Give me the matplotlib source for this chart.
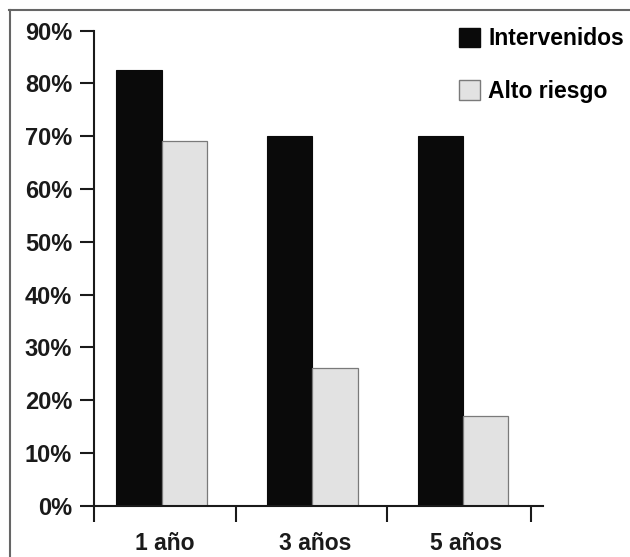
import numpy as np
import matplotlib
matplotlib.use('Agg')
import matplotlib.pyplot as plt
from matplotlib.patches import Patch
from matplotlib.lines import Line2D

categorias = ['1 año', '3 años', '5 años']
intervenidos = [82.5, 70, 70]
alto_riesgo = [69, 26, 17]
series = ['Intervenidos', 'Alto riesgo']
yticks = [0, 10, 20, 30, 40, 50, 60, 70, 80, 90]

plt.rcParams['font.family'] = ['Liberation Sans', 'DejaVu Sans']
plt.rcParams['font.weight'] = 'bold'

fig = plt.figure(figsize=(6.3, 5.57), dpi=100)
ax = fig.add_axes([0.1497, 0.0921, 0.862 - 0.1497, 0.9452 - 0.0921])

x = np.arange(len(categorias))
w = 0.3
ax.bar(x - w/2, intervenidos, w, color='#0a0a0a', edgecolor='#0a0a0a', linewidth=0.8)
ax.bar(x + w/2, alto_riesgo, w, color='#e2e2e2', edgecolor='#7a7a7a', linewidth=0.9)

ax.set_xlim(-0.447, 2.53)
ax.set_ylim(0, 90)

for s in ['top', 'right']:
    ax.spines[s].set_visible(False)
for s in ['left', 'bottom']:
    ax.spines[s].set_linewidth(1.5)
    ax.spines[s].set_color('#1a1a1a')

ax.set_yticks(yticks)
ax.set_yticklabels([f'{v}%' for v in yticks])
ax.tick_params(axis='y', direction='out', length=10, width=1.5, pad=6,
               labelsize=17, colors='#1a1a1a')

# separadores debajo del eje x, etiquetas centradas en cada grupo
ax.set_xticks([-0.447, 0.491, 1.493, 2.45])
ax.set_xticklabels([])
ax.tick_params(axis='x', which='major', direction='out', length=11.5, width=1.5, color='#1a1a1a')
ax.set_xticks(x + 0.02, minor=True)
ax.set_xticklabels(categorias, minor=True)
ax.tick_params(axis='x', which='minor', length=0, pad=19, labelsize=16.5, labelcolor='#1a1a1a')

handles = [Patch(facecolor='#0a0a0a', edgecolor='#0a0a0a'),
           Patch(facecolor='#e2e2e2', edgecolor='#7a7a7a')]
ax.legend(handles, series, loc='upper left', bbox_to_anchor=(448/630, 1 - 16/557),
          bbox_transform=fig.transFigure, frameon=False, borderpad=0,
          handlelength=0.9, handleheight=0.95, handletextpad=0.35,
          labelspacing=1.3, fontsize=16.5)

# marco del recorte
fig.add_artist(Line2D([9/630, 1], [1 - 10/557, 1 - 10/557], color='#666666', lw=1.5))
fig.add_artist(Line2D([9.5/630, 9.5/630], [0, 1 - 10/557], color='#666666', lw=1.5))

plt.savefig('out.png', dpi=100)
